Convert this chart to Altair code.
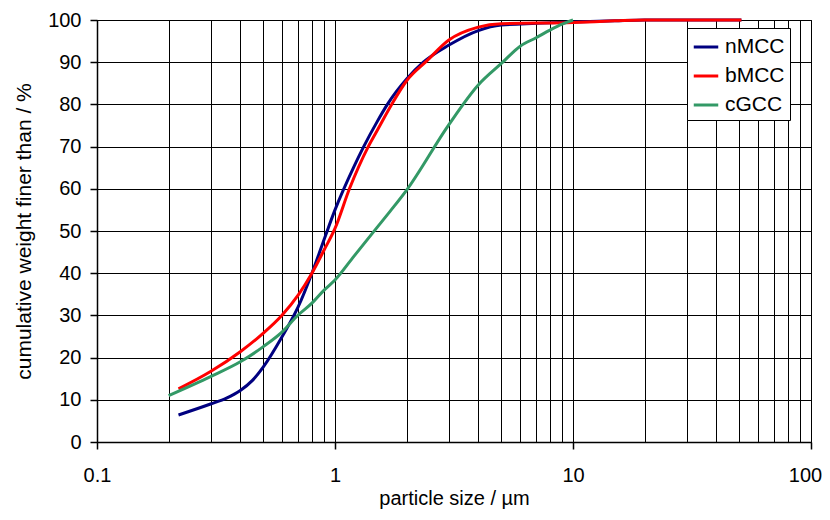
import altair as alt
import pandas as pd

# particle size (µm) and cumulative weight finer than (%)
n_size = [0.22, 0.3, 0.35, 0.4, 0.45, 0.5, 0.6, 0.7, 0.8, 0.9, 1.0, 1.2, 1.32, 1.5, 1.66, 2.0, 2.35, 3.0, 4.0, 5.0, 7.0, 10.0, 15.0, 20.0, 51.0]
n_val = [6.4, 9.0, 10.4, 12.2, 14.6, 17.8, 25.0, 32.0, 40.0, 48.0, 55.0, 65.2, 70.0, 75.8, 80.0, 86.0, 90.0, 94.0, 97.5, 98.8, 99.2, 99.5, 99.8, 100.0, 100.0]

b_size = [0.22, 0.3, 0.4, 0.5, 0.6, 0.7, 0.8, 0.9, 1.0, 1.15, 1.38, 1.5, 1.73, 2.0, 2.43, 3.0, 4.0, 5.0, 10.0, 15.0, 20.0, 51.0]
b_val = [12.6, 16.7, 21.4, 25.8, 30.1, 34.8, 40.0, 45.5, 50.6, 60.0, 70.0, 73.7, 80.0, 85.6, 90.3, 95.2, 98.3, 99.1, 99.4, 99.8, 100.0, 100.0]

c_size = [0.2, 0.3, 0.4, 0.5, 0.6, 0.7, 0.8, 0.9, 1.0, 1.2, 1.5, 1.7, 2.0, 3.0, 4.0, 5.0, 6.0, 7.0, 8.0, 9.0, 10.0]
c_val = [11.0, 15.5, 19.0, 22.6, 26.1, 30.1, 32.9, 36.0, 38.4, 44.0, 50.8, 54.6, 59.7, 75.1, 84.6, 89.7, 93.8, 95.8, 97.6, 99.0, 100.0]

series = ["nMCC", "bMCC", "cGCC"]
colors = ["#000080", "#FF0000", "#339966"]

x_grid = [0.1, 0.2, 0.3, 0.4, 0.5, 0.6, 0.7, 0.8, 0.9,
          1, 2, 3, 4, 5, 6, 7, 8, 9,
          10, 20, 30, 40, 50, 60, 70, 80, 90, 100]
y_ticks = [0, 10, 20, 30, 40, 50, 60, 70, 80, 90, 100]

rows = []
for name, xs, ys in zip(series, [n_size, b_size, c_size], [n_val, b_val, c_val]):
    for i, (x, y) in enumerate(zip(xs, ys)):
        rows.append({"series": name, "size": x, "value": y, "order": i})
df = pd.DataFrame(rows)

FONT = "Liberation Sans"

decade_test = "indexof([0.1, 1, 10, 100], datum.value) >= 0"

chart = alt.Chart(df).mark_line(strokeWidth=3, interpolate="monotone").encode(
    x=alt.X("size:Q",
            scale=alt.Scale(type="log", domain=[0.1, 100], nice=False),
            axis=alt.Axis(values=x_grid, title="particle size / µm",
                          labelExpr=decade_test + " ? '' + datum.value : ''",
                          tickOpacity={"condition": {"test": decade_test, "value": 1}, "value": 0},
                          labelOffset={"condition": {"test": "datum.value == 100", "value": -6}, "value": 0},
                          tickSize=7, labelPadding=16, labelFlush=False, labelOverlap=False,
                          titlePadding=3)),
    y=alt.Y("value:Q",
            scale=alt.Scale(domain=[0, 100], nice=False),
            axis=alt.Axis(values=y_ticks, title="cumulative weight finer than / %",
                          tickSize=7, labelPadding=9, labelFlush=False, titlePadding=13,
                          titleFontSize=21)),
    color=alt.Color("series:N",
                    scale=alt.Scale(domain=series, range=colors),
                    legend=alt.Legend(title=None, orient="none", legendX=590, legendY=8,
                                      symbolType="stroke", symbolSize=600, symbolStrokeWidth=3,
                                      labelFontSize=21, labelFont=FONT, labelColor="#000",
                                      fillColor="white", strokeColor="black", padding=5,
                                      rowPadding=5, labelOffset=5, cornerRadius=0)),
    order="order:Q",
).properties(
    width=714, height=422,
    autosize=alt.AutoSizeParams(type="none"),
    padding={"left": 89, "top": 12, "right": 11, "bottom": 70},
).configure_axis(
    grid=True, gridColor="#000", gridWidth=1, gridOpacity=1,
    domainColor="#000", domainWidth=1.5, tickColor="#000", tickWidth=1.5,
    labelFont=FONT, labelFontSize=20, labelColor="#000",
    titleFont=FONT, titleFontSize=20, titleColor="#000", titleFontWeight="normal",
).configure_view(
    stroke="#000", strokeWidth=1,
)

chart.save("out.html", embed_options={"renderer": "svg", "actions": False})
